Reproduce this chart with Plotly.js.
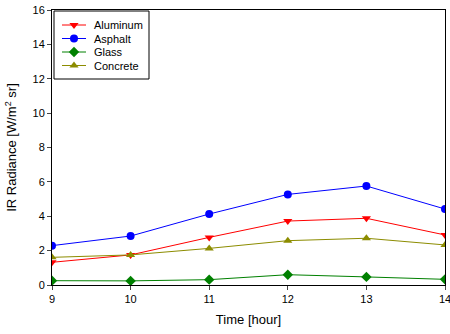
<!DOCTYPE html>
<html>
<head>
<meta charset="utf-8">
<script src="https://cdn.plot.ly/plotly-3.0.1.min.js"></script>
<style>html,body{margin:0;padding:0;background:#fff;}#chart{width:450px;height:334px;}</style>
</head>
<body>
<div id="chart"></div>
<script>
const hours = [9, 10, 11, 12, 13, 14];
const aluminum = [1.32, 1.75, 2.77, 3.72, 3.88, 2.91];
const asphalt = [2.29, 2.85, 4.13, 5.27, 5.76, 4.42];
const glass = [0.25, 0.24, 0.31, 0.60, 0.47, 0.33];
const concrete = [1.61, 1.75, 2.13, 2.58, 2.72, 2.33];
const seriesNames = ["Aluminum", "Asphalt", "Glass", "Concrete"];

const styles = [
  {color: "#ff0000", symbol: "triangle-down"},
  {color: "#0000ff", symbol: "circle"},
  {color: "#008000", symbol: "diamond"},
  {color: "#8c8c00", symbol: "triangle-up"}
];
const values = [aluminum, asphalt, glass, concrete];
const traces = values.map((v, i) => ({
  x: hours, y: v, name: seriesNames[i], type: "scatter", mode: "lines+markers",
  line: {color: styles[i].color, width: 1},
  marker: {color: styles[i].color, symbol: styles[i].symbol, size: 8},
  showlegend: false, hoverinfo: "skip"
}));

// Custom compact legend (pixel layout converted to paper coordinates)
const W = 450, H = 334, M = {l: 52, r: 5, t: 10, b: 49};
const pw = W - M.l - M.r, ph = H - M.t - M.b;
const px = x => (x - M.l) / pw;
const py = y => (H - M.b - y) / ph;
const box = {x0: 54, x1: 149, y0: 11, y1: 79};
const rowY = [25, 38.5, 52, 65.5];
const lineX0 = 62, lineX1 = 86, markX = 74, textX = 92;

const shapes = [{type: "rect", xref: "paper", yref: "paper",
  x0: px(box.x0), x1: px(box.x1), y0: py(box.y1), y1: py(box.y0),
  line: {color: "#000", width: 1}, fillcolor: "#fff", layer: "below"}];
const annotations = [];
seriesNames.forEach((n, i) => {
  shapes.push({type: "line", xref: "paper", yref: "paper",
    x0: px(lineX0), x1: px(lineX1), y0: py(rowY[i]), y1: py(rowY[i]),
    line: {color: styles[i].color, width: 1}, layer: "below"});
  annotations.push({xref: "paper", yref: "paper", x: px(textX), y: py(rowY[i]),
    xanchor: "left", yanchor: "middle", text: n, showarrow: false,
    font: {size: 11, family: "Liberation Sans, Arial, sans-serif", color: "#000"}});
});
traces.push({
  x: seriesNames.map(() => px(markX)), y: rowY.map(py),
  xaxis: "x2", yaxis: "y2", type: "scatter", mode: "markers",
  marker: {color: styles.map(s => s.color), symbol: styles.map(s => s.symbol), size: 8},
  showlegend: false, hoverinfo: "skip", cliponaxis: false
});

const font = {family: "Liberation Sans, Arial, sans-serif", color: "#000"};
const layout = {
  width: W, height: H,
  margin: M,
  paper_bgcolor: "#fff", plot_bgcolor: "#fff",
  font: Object.assign({size: 11}, font),
  showlegend: false,
  shapes: shapes, annotations: annotations,
  xaxis: {range: [9, 14], tickvals: hours, ticks: "outside", ticklen: 4,
    showgrid: false, zeroline: false, showline: true, linecolor: "#000", linewidth: 1, mirror: true,
    ticklabeloverflow: "allow",
    tickfont: {size: 11}, title: {text: "Time [hour]", font: {size: 13}, standoff: 10}},
  yaxis: {range: [0, 16], dtick: 2, ticks: "outside", ticklen: 4,
    showgrid: false, zeroline: false, showline: true, linecolor: "#000", linewidth: 1, mirror: true,
    tickfont: {size: 11}, title: {text: "IR Radiance [W/m<sup>2</sup> sr]", font: {size: 13}, standoff: 12}},
  xaxis2: {range: [0, 1], overlaying: "x", visible: false, fixedrange: true},
  yaxis2: {range: [0, 1], overlaying: "y", visible: false, fixedrange: true}
};
Plotly.newPlot("chart", traces, layout, {displayModeBar: false, staticPlot: true});
</script>
</body>
</html>
